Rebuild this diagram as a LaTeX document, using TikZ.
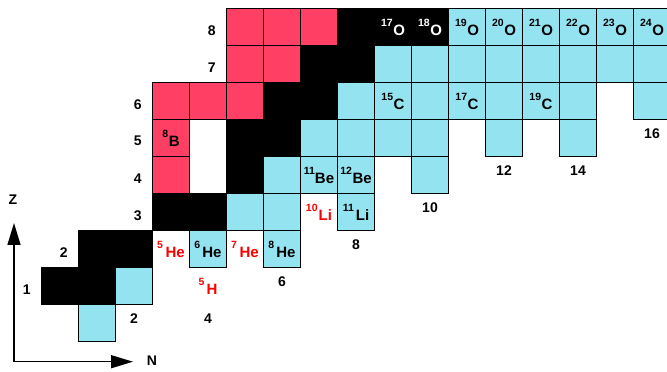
\documentclass[tikz,border=0pt]{standalone}
\usepackage{fontspec}
\setmainfont{Liberation Sans}
\usetikzlibrary{arrows.meta}
\definecolor{pinkcell}{RGB}{255,64,100}
\definecolor{cyancell}{RGB}{147,228,240}
% isotope label: mass number raised, then the element symbol
\newcommand{\iso}[3][1.5pt]{\raisebox{9pt}{\fontsize{10.5}{10.5}\selectfont #2}\kern#1{\fontsize{15}{15}\selectfont #3}}

\begin{document}
\begin{tikzpicture}[x=37pt,y=37pt,
  font=\bfseries\fontsize{14}{14}\selectfont,
  cellbox/.style={draw=black,line width=0.8pt},
  stable/.style={cellbox,fill=black},
  protonrich/.style={cellbox,fill=pinkcell},
  neutronrich/.style={cellbox,fill=cyancell},
  txt/.style={inner sep=0pt,anchor=center},
  unbound/.style={txt,text=red},
  zlabel/.style={txt,yshift=-3pt},
  nlabel/.style={txt,yshift=5pt},
  axis/.style={line width=1.5pt,-{Triangle[length=22pt,width=13pt]}}]
\useasboundingbox (-41.5pt,-30.3pt) rectangle (625.5pt,341.7pt);

\begin{scope}
\clip (-41.5pt,-30.3pt) rectangle (625.5pt,341.7pt);
% stable nuclei
\foreach \n/\z in {0/1,1/1,1/2,2/2,3/3,4/3,5/4,5/5,6/5,6/6,7/6,7/7,8/7,8/8,9/8,10/8}
  \draw[stable] (\n,\z) rectangle ++(1,1);
% proton-rich nuclei
\foreach \n/\z in {3/4,3/5,3/6,4/6,5/6,5/7,6/7,5/8,6/8,7/8}
  \draw[protonrich] (\n,\z) rectangle ++(1,1);
% neutron-rich nuclei
\foreach \n/\z in {1/0,2/1,4/2,6/2,5/3,6/3,8/3,6/4,7/4,8/4,10/4,
    7/5,8/5,9/5,10/5,12/5,14/5,
    8/6,9/6,10/6,11/6,12/6,13/6,14/6,16/6}
  \draw[neutronrich] (\n,\z) rectangle ++(1,1);
\foreach \n in {9,...,16}
  \draw[neutronrich] (\n,7) rectangle ++(1,1);
\foreach \n in {11,...,16}
  \draw[neutronrich] (\n,8) rectangle ++(1,1);

% isotope names inside cells
\node[txt] (b8)   at (3.5,5.5)  {\iso[0.5pt]{8}{B}};
\node[txt] (he6)  at (4.5,2.5)  {\iso[2pt]{6}{He}};
\node[txt] (he8)  at (6.5,2.5)  {\iso[2pt]{8}{He}};
\node[txt] (be11) at (7.5,4.5)  {\iso[0pt]{11}{Be}};
\node[txt] (be12) at (8.5,4.5)  {\iso[0.5pt]{12}{Be}};
\node[txt] (li11) at (8.5,3.5)  {\iso[2pt]{11}{Li}};
\node[txt] (c15)  at (9.5,6.5)  {\iso[0.5pt]{15}{C}};
\node[txt] (c17)  at (11.5,6.5) {\iso[0.5pt]{17}{C}};
\node[txt] (c19)  at (13.5,6.5) {\iso[0.5pt]{19}{C}};
\node[txt,text=white] (o17) at (9.5,8.5)  {\iso[0.5pt]{17}{O}};
\node[txt,text=white] (o18) at (10.5,8.5) {\iso[0.5pt]{18}{O}};
\node[txt] (o19)  at (11.5,8.5) {\iso[0.5pt]{19}{O}};
\node[txt] (o20)  at (12.5,8.5) {\iso[0.5pt]{20}{O}};
\node[txt] (o21)  at (13.5,8.5) {\iso[0.5pt]{21}{O}};
\node[txt] (o22)  at (14.5,8.5) {\iso[0.5pt]{22}{O}};
\node[txt] (o23)  at (15.5,8.5) {\iso[0.5pt]{23}{O}};
\node[txt] (o24)  at (16.5,8.5) {\iso[0.5pt]{24}{O}};
\end{scope}

% unbound systems
\node[unbound] (he5)  at (3.5,2.5) {\iso[2.5pt]{5}{He}};
\node[unbound] (he7)  at (5.5,2.5) {\iso[2.5pt]{7}{He}};
\node[unbound] (h5)   at (4.5,1.5) {\iso[2pt]{5}{H}};
\node[unbound] (li10) at (7.5,3.5) {\iso[1pt]{10}{Li}};

% proton numbers
\node[zlabel] (z1) at (-0.4,1.5) {1};
\node[zlabel] (z2) at (0.6,2.5)  {2};
\node[zlabel] (z3) at (2.6,3.5)  {3};
\node[zlabel] (z4) at (2.6,4.5)  {4};
\node[zlabel] (z5) at (2.6,5.5)  {5};
\node[zlabel] (z6) at (2.6,6.5)  {6};
\node[zlabel] (z7) at (4.6,7.5)  {7};
\node[zlabel] (z8) at (4.6,8.5)  {8};

% neutron numbers
\node[nlabel] (n2)  at (2.5,0.5)  {2};
\node[nlabel] (n4)  at (4.5,0.5)  {4};
\node[nlabel] (n6)  at (6.5,1.5)  {6};
\node[nlabel] (n8)  at (8.5,2.5)  {8};
\node[nlabel] (n10) at (10.5,3.5) {10};
\node[nlabel] (n12) at (12.5,4.5) {12};
\node[nlabel] (n14) at (14.5,4.5) {14};
\node[nlabel] (n16) at (16.5,5.5) {16};

% axes
\coordinate (corner) at (-27.5pt,-20pt);
\coordinate (ztip) at (-27.5pt,118.7pt);
\coordinate (ntip) at (91.5pt,-20pt);
\draw[axis] (corner) -- (ztip);
\draw[axis] (corner) -- (ntip);
\node[txt] (zname) at (-28.5pt,141.7pt) {Z};
\node[txt] (nname) at (110.5pt,-19.3pt) {N};
\end{tikzpicture}
\end{document}
